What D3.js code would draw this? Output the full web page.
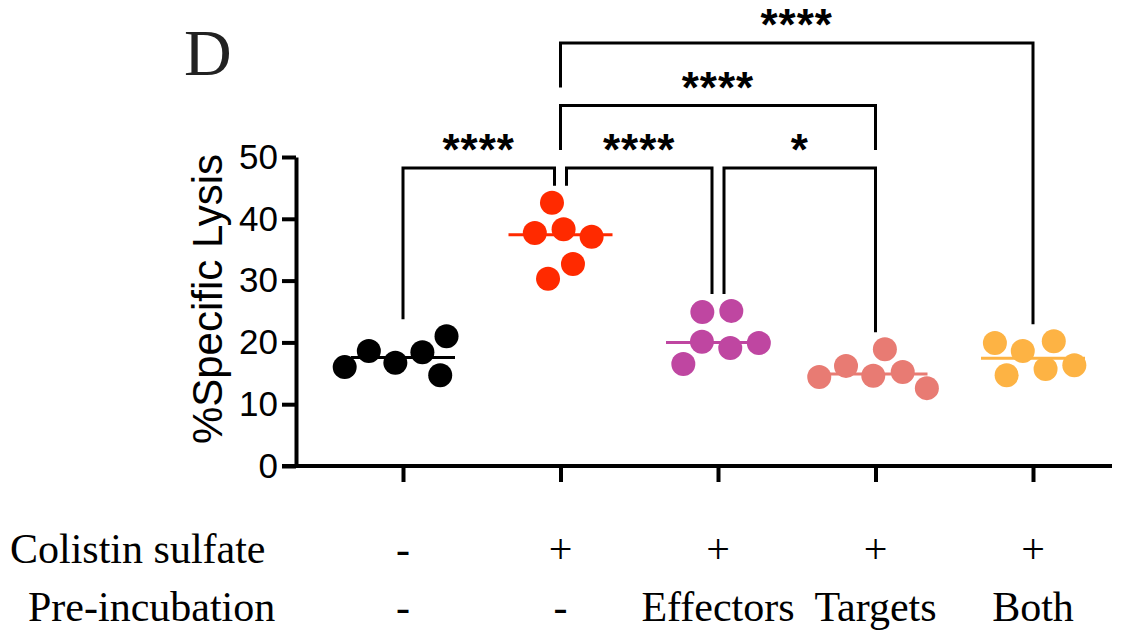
<!DOCTYPE html>
<html>
<head>
<meta charset="utf-8">
<script src="https://cdn.jsdelivr.net/npm/d3@7"></script>
<style>
  body { margin: 0; background: #fff; }
  svg { display: block; }
</style>
</head>
<body>
<div id="chart"></div>
<script>
// groups (x categories)
const groups = ["none", "colistin", "effectors", "targets", "both"];
const colistinRow = ["-", "+", "+", "+", "+"];
const preincRow = ["-", "-", "Effectors", "Targets", "Both"];
const groupColors = ["#000000", "#ff2a00", "#bf46a1", "#e87b73", "#fdb344"];

// %specific lysis, replicates of each group
const lysisNone = [16.0, 18.6, 16.7, 18.4, 21.0, 14.7];
const lysisColistin = [37.7, 30.3, 42.6, 38.3, 32.7, 37.1];
const lysisEffectors = [16.5, 24.9, 20.1, 25.1, 19.1, 19.9];
const lysisTargets = [14.4, 16.2, 18.9, 14.6, 15.2, 12.6];
const lysisBoth = [19.9, 14.7, 18.6, 20.2, 15.7, 16.3];
const lysis = [lysisNone, lysisColistin, lysisEffectors, lysisTargets, lysisBoth];

const yTicks = [0, 10, 20, 30, 40, 50];

// significance brackets
const compFrom = ["none", "colistin", "effectors", "colistin", "colistin"];
const compTo = ["colistin", "effectors", "targets", "targets", "both"];
const compStars = ["****", "****", "*", "****", "****"];
const compRow = [0, 0, 0, 1, 2];

const W = 1128, H = 631;
const svg = d3.select("#chart").append("svg")
    .attr("width", W)
    .attr("height", H);

const y = d3.scaleLinear().domain([0, 50]).range([466, 157]);
const x = d3.scalePoint().domain(groups).range([403, 1033]);
const axisX = 296;
const r = 12;

// panel letter
svg.append("text")
    .attr("x", 184).attr("y", 75)
    .attr("font-family", "'Liberation Serif', 'Times New Roman', serif")
    .attr("font-size", 66)
    .attr("fill", "#222")
    .text("D");

// y axis
const yAxis = svg.append("g")
    .attr("transform", `translate(${axisX},0)`)
    .call(d3.axisLeft(y).tickValues(yTicks).tickSize(14).tickPadding(4).tickSizeOuter(0));
yAxis.select(".domain").attr("stroke-width", 4).attr("stroke", "#000");
yAxis.selectAll(".tick line").attr("stroke-width", 4).attr("stroke", "#000");
yAxis.selectAll(".tick text")
    .attr("font-family", "'Liberation Sans', Arial, sans-serif")
    .attr("font-size", 35)
    .attr("fill", "#000");

svg.append("text")
    .attr("transform", "translate(222,299) rotate(-90)")
    .attr("text-anchor", "middle")
    .attr("font-family", "'Liberation Sans', Arial, sans-serif")
    .attr("font-size", 42)
    .attr("fill", "#000")
    .text("%Specific Lysis");

// x axis
const xAxis = svg.append("g")
    .attr("transform", `translate(0,${y(0)})`)
    .call(d3.axisBottom(x).tickSize(16).tickFormat(""));
xAxis.select(".domain").attr("d", `M${axisX - 14},0H1112`).attr("stroke-width", 4).attr("stroke", "#000");
xAxis.selectAll(".tick line").attr("stroke-width", 4).attr("stroke", "#000");

// swarm layout via force simulation, y fixed
const nodes = [];
lysis.forEach(function (vals, gi) {
    const cx = x(groups[gi]);
    vals.forEach(function (v, i) {
        nodes.push({g: gi, v: v, fy: y(v), y: y(v), x: cx + (i - 2.5) * 16, cx: cx});
    });
});
const sim = d3.forceSimulation(nodes)
    .force("x", d3.forceX(d => d.cx).strength(0.03))
    .force("collide", d3.forceCollide(r + 2.5).iterations(4))
    .stop();
for (let i = 0; i < 400; i++) sim.tick();

// median lines
lysis.forEach(function (vals, gi) {
    const cx = x(groups[gi]);
    svg.append("line")
        .attr("x1", cx - 52).attr("x2", cx + 52)
        .attr("y1", y(d3.median(vals))).attr("y2", y(d3.median(vals)))
        .attr("stroke", groupColors[gi])
        .attr("stroke-width", 3);
});

svg.append("g").selectAll("circle")
    .data(nodes)
    .join("circle")
    .attr("cx", d => d.x)
    .attr("cy", d => d.fy)
    .attr("r", r)
    .attr("fill", d => groupColors[d.g]);

// brackets
const rowY = row => 168 - row * 62.5;
const legOffset = 6;
compFrom.forEach(function (from, k) {
    const to = compTo[k];
    const row = compRow[k];
    const by = rowY(row);
    function legX(g, side) {
        // shift apart when two brackets in same row share a group
        const shared = compFrom.some((f, j) => j !== k && compRow[j] === row && (f === g || compTo[j] === g));
        return x(g) + (shared ? side * legOffset : 0);
    }
    function legBottom(g) {
        const lower = compRow
            .map((rw, j) => ({rw: rw, j: j}))
            .filter(o => o.rw < row && (compFrom[o.j] === g || compTo[o.j] === g))
            .map(o => o.rw);
        if (lower.length) return rowY(d3.max(lower)) - 18;
        return y(d3.max(lysis[groups.indexOf(g)])) - r - 5;
    }
    const x1 = legX(from, 1), x2 = legX(to, -1);
    svg.append("path")
        .attr("d", `M${x1},${legBottom(from)}V${by}H${x2}V${legBottom(to)}`)
        .attr("fill", "none")
        .attr("stroke", "#000")
        .attr("stroke-width", 3);
    svg.append("text")
        .attr("x", (x1 + x2) / 2)
        .attr("y", by - 3)
        .attr("text-anchor", "middle")
        .attr("font-family", "'Liberation Sans', Arial, sans-serif")
        .attr("font-weight", "bold")
        .attr("font-size", 44)
        .attr("letter-spacing", 1)
        .attr("fill", "#000")
        .text(compStars[k]);
});

// condition table under the axis
const serif = "'Liberation Serif', 'Times New Roman', serif";
svg.append("text").attr("x", 10).attr("y", 563)
    .attr("font-family", serif).attr("font-size", 42).text("Colistin sulfate");
svg.append("text").attr("x", 28).attr("y", 621)
    .attr("font-family", serif).attr("font-size", 42).text("Pre-incubation");
svg.append("g").selectAll("text")
    .data(colistinRow)
    .join("text")
    .attr("x", (d, i) => x(groups[i]))
    .attr("y", 563)
    .attr("text-anchor", "middle")
    .attr("font-family", serif).attr("font-size", 42)
    .text(d => d);
svg.append("g").selectAll("text")
    .data(preincRow)
    .join("text")
    .attr("x", (d, i) => x(groups[i]))
    .attr("y", 621)
    .attr("text-anchor", "middle")
    .attr("font-family", serif).attr("font-size", 42)
    .text(d => d);
</script>
</body>
</html>
